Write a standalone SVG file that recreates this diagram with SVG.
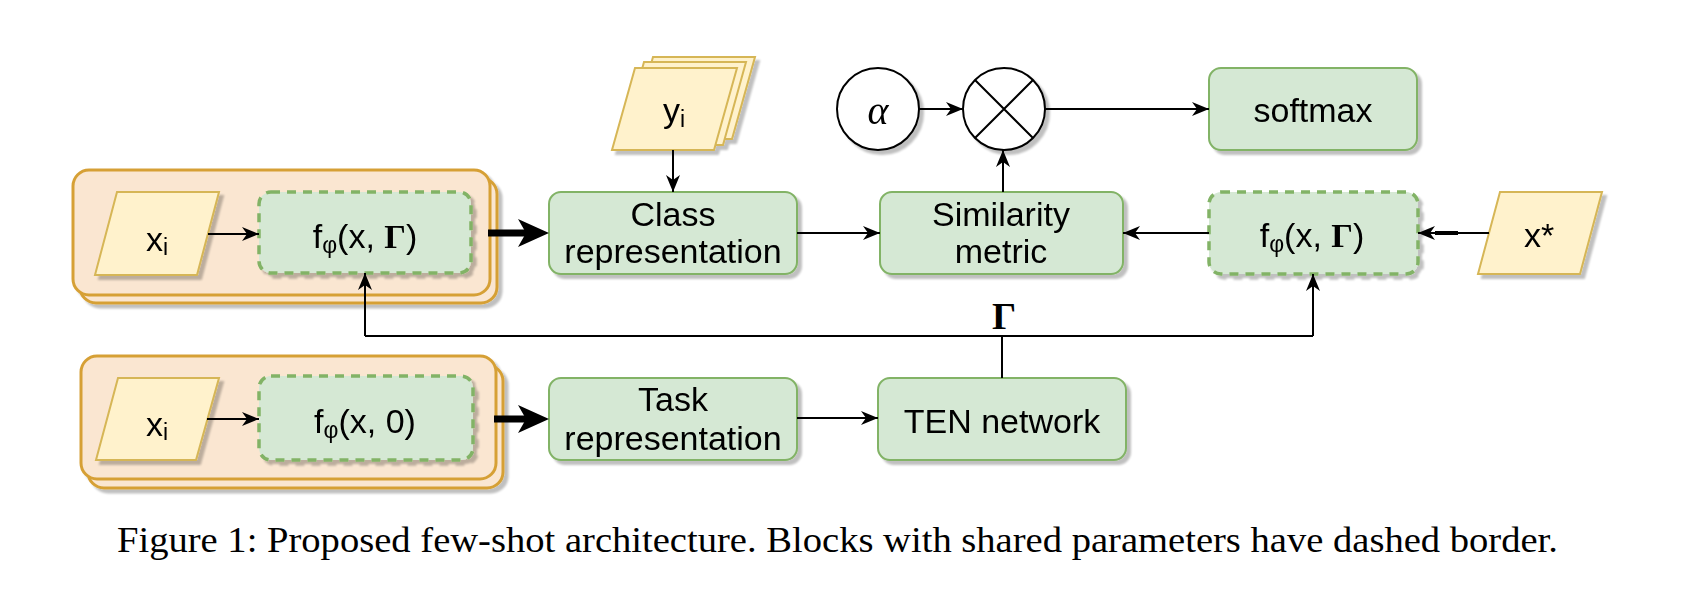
<svg xmlns="http://www.w3.org/2000/svg" width="1706" height="608" viewBox="0 0 1706 608">
  <defs>
    <style>
      .t { font-family: "Liberation Sans", Arial, Helvetica, sans-serif; font-size: 34px; fill: #000; text-anchor: middle; }
      .sub { font-size: 23px; }
      .serif { font-family: "Liberation Serif", "Times New Roman", Times, serif; fill: #000; }
      .g { font-family: "Liberation Serif", "Times New Roman", Times, serif; font-weight: bold; }
      .green { fill: #d5e8d4; stroke: #82b366; stroke-width: 2; }
      .dash { fill: #d5e8d4; stroke: #82b366; stroke-width: 3.5; stroke-dasharray: 9 7; }
      .yellow { fill: #fff2cc; stroke: #d6b656; stroke-width: 2; }
      .orange { fill: #fae6d1; stroke: #d6a036; stroke-width: 3; }
      .white { fill: #ffffff; stroke: #000; stroke-width: 2; }
      .edge { fill: none; stroke: #000; stroke-width: 2; }
      .thick { fill: none; stroke: #000; stroke-width: 7; }
    </style>
    <filter id="sh" x="-10%" y="-10%" width="130%" height="140%">
      <feGaussianBlur in="SourceAlpha" stdDeviation="1.2"/>
      <feOffset dx="4" dy="4" result="o"/>
      <feComponentTransfer><feFuncA type="linear" slope="0.25"/></feComponentTransfer>
      <feMerge><feMergeNode/><feMergeNode in="SourceGraphic"/></feMerge>
    </filter>
    <marker id="ah" markerUnits="userSpaceOnUse" markerWidth="18" markerHeight="14" viewBox="0 0 18 14" refX="17" refY="7" orient="auto">
      <path d="M0,0 L17,7 L0,14 L5,7 Z" fill="#000"/>
    </marker>
    <marker id="ahT" markerUnits="userSpaceOnUse" markerWidth="32" markerHeight="28" viewBox="0 0 32 28" refX="9" refY="14" orient="auto">
      <path d="M0,0 L31,14 L0,28 L8,14 Z" fill="#000"/>
    </marker>
  </defs>

  <rect width="1706" height="608" fill="#ffffff"/>

  <!-- upper stacked support set -->
  <g id="stackTop" filter="url(#sh)">
    <rect class="orange" x="80" y="178" width="417" height="125" rx="16"/>
    <rect class="orange" x="73" y="170" width="417" height="125" rx="16"/>
  </g>
  <g id="xiTop" filter="url(#sh)">
    <polygon class="yellow" points="117,192 219,192 197,275 95,275"/>
    <text class="t" x="157" y="251">x<tspan class="sub" dy="4">i</tspan></text>
  </g>
  <g id="fTop" filter="url(#sh)">
    <rect class="dash" x="259" y="192" width="212" height="81" rx="12"/>
    <text class="t" x="365" y="248">f<tspan class="sub" dy="5">φ</tspan><tspan dy="-5">(x, </tspan><tspan class="g">Γ</tspan>)</text>
  </g>

  <!-- lower stacked support set -->
  <g id="stackBottom" filter="url(#sh)">
    <rect class="orange" x="88" y="365" width="415" height="123" rx="16"/>
    <rect class="orange" x="81" y="356" width="415" height="123" rx="16"/>
  </g>
  <g id="xiBottom" filter="url(#sh)">
    <polygon class="yellow" points="118,378 219,378 196,460 96,460"/>
    <text class="t" x="157" y="436">x<tspan class="sub" dy="4">i</tspan></text>
  </g>
  <g id="fBottom" filter="url(#sh)">
    <rect class="dash" x="259" y="376" width="214" height="84" rx="12"/>
    <text class="t" x="365" y="433">f<tspan class="sub" dy="5">φ</tspan><tspan dy="-5">(x, 0)</tspan></text>
  </g>

  <!-- labels stack y_i -->
  <g id="yi" filter="url(#sh)">
    <polygon class="yellow" points="653,57 755,57 732,139 630,139"/>
    <polygon class="yellow" points="644,62 746,62 723,145 621,145"/>
    <polygon class="yellow" points="635,68 737,68 714,150 612,150"/>
    <text class="t" x="674" y="122">y<tspan class="sub" dy="5">i</tspan></text>
  </g>

  <g id="classRep" filter="url(#sh)">
    <rect class="green" x="549" y="192" width="248" height="82" rx="12"/>
    <text class="t" x="673" y="226">Class</text>
    <text class="t" x="673" y="263">representation</text>
  </g>
  <g id="taskRep" filter="url(#sh)">
    <rect class="green" x="549" y="378" width="248" height="82" rx="12"/>
    <text class="t" x="673" y="411">Task</text>
    <text class="t" x="673" y="450">representation</text>
  </g>

  <g id="alpha" filter="url(#sh)">
    <circle class="white" cx="878" cy="109" r="41"/>
    <text class="serif" x="878" y="124" font-style="italic" font-size="40" text-anchor="middle">α</text>
  </g>
  <g id="mult" filter="url(#sh)">
    <circle class="white" cx="1004" cy="109" r="41"/>
    <path class="edge" d="M975,80 L1033,138 M1033,80 L975,138"/>
  </g>

  <g id="softmax" filter="url(#sh)">
    <rect class="green" x="1209" y="68" width="208" height="82" rx="12"/>
    <text class="t" x="1313" y="122">softmax</text>
  </g>

  <g id="similarity" filter="url(#sh)">
    <rect class="green" x="880" y="192" width="243" height="82" rx="12"/>
    <text class="t" x="1001" y="226">Similarity</text>
    <text class="t" x="1001" y="263">metric</text>
  </g>

  <g id="ten" filter="url(#sh)">
    <rect class="green" x="878" y="378" width="248" height="82" rx="12"/>
    <text class="t" x="1002" y="433">TEN network</text>
  </g>

  <g id="fRight" filter="url(#sh)">
    <rect class="dash" x="1209" y="192" width="209" height="82" rx="12"/>
    <text class="t" x="1312" y="247">f<tspan class="sub" dy="5">φ</tspan><tspan dy="-5">(x, </tspan><tspan class="g">Γ</tspan>)</text>
  </g>

  <g id="xstar" filter="url(#sh)">
    <polygon class="yellow" points="1500,192 1602,192 1580,274 1478,274"/>
    <text class="t" x="1539" y="247">x*</text>
  </g>

  <!-- connectors -->
  <g id="connectors">
    <path class="edge" d="M208,234 L259,234" marker-end="url(#ah)"/>
    <path class="edge" d="M207,419 L259,419" marker-end="url(#ah)"/>
    <path class="thick" d="M488,233 L527,233" marker-end="url(#ahT)"/>
    <path class="thick" d="M494,419 L527,419" marker-end="url(#ahT)"/>
    <path class="edge" d="M673,150 L673,192" marker-end="url(#ah)"/>
    <path class="edge" d="M797,233 L880,233" marker-end="url(#ah)"/>
    <path class="edge" d="M797,418 L878,418" marker-end="url(#ah)"/>
    <path class="edge" d="M919,109 L963,109" marker-end="url(#ah)"/>
    <path class="edge" d="M1045,109 L1209,109" marker-end="url(#ah)"/>
    <path class="edge" d="M1003,192 L1003,150" marker-end="url(#ah)"/>
    <path class="edge" d="M1209,233 L1123,233" marker-end="url(#ah)"/>
    <path class="edge" d="M1489,233 L1418,233" marker-end="url(#ah)"/>
    <path d="M1435,233 L1458,233" stroke="#000" stroke-width="4" fill="none"/>
    <path class="edge" d="M1002,378 L1002,336"/>
    <path class="edge" d="M365,336 L1313,336"/>
    <path class="edge" d="M365,336 L365,273" marker-end="url(#ah)"/>
    <path class="edge" d="M1313,336 L1313,274" marker-end="url(#ah)"/>
    <text class="serif" x="1004" y="329" font-weight="bold" font-size="38" text-anchor="middle">Γ</text>
  </g>

  <g id="caption">
    <text class="serif" x="117" y="552" font-size="35" textLength="1441" lengthAdjust="spacingAndGlyphs">Figure 1: Proposed few-shot architecture. Blocks with shared parameters have dashed border.</text>
  </g>
</svg>
